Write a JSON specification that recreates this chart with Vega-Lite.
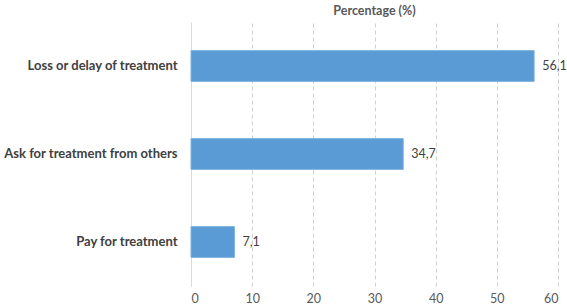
{
  "$schema": "https://vega.github.io/schema/vega-lite/v6.json",
  "autosize": "none",
  "width": 367,
  "height": 264,
  "padding": {"left": 191, "top": 22, "right": 9, "bottom": 21},
  "background": "white",
  "title": {"text": "Percentage (%)", "anchor": "middle", "font": "Lato", "fontSize": 12.5, "fontWeight": "bold", "color": "#595959", "offset": 5},
  "config": {
    "view": {"stroke": null},
    "locale": {"number": {"decimal": ",", "thousands": ".", "grouping": [3], "currency": ["", " €"]}}
  },
  "data": {"values": [
    {"category": "Loss or delay of treatment", "pct": 56.1},
    {"category": "Ask for treatment from others", "pct": 34.7},
    {"category": "Pay for treatment", "pct": 7.1}
  ]},
  "encoding": {
    "y": {"field": "category", "type": "nominal", "sort": null,
      "scale": {"paddingInner": 0.65, "paddingOuter": 0.325},
      "axis": {"title": null, "ticks": false, "domain": true, "domainColor": "#d9d9d9", "labelFont": "Lato", "labelFontSize": 13, "labelFontWeight": "bold", "labelColor": "#404040", "labelPadding": 14, "labelLimit": 300}},
    "x": {"field": "pct", "type": "quantitative",
      "scale": {"domain": [0, 60], "nice": false},
      "axis": {"title": null, "values": [0, 10, 20, 30, 40, 50, 60], "format": "d", "domain": false, "ticks": false, "grid": true, "gridColor": "#d0d0d0", "gridDash": [4, 3], "labelFont": "Lato", "labelFontSize": 12.5, "labelColor": "#595959", "labelPadding": 6}}
  },
  "layer": [
    {"mark": {"type": "bar", "color": "#5B9BD5", "stroke": "#7fb2e0", "strokeWidth": 1}},
    {"mark": {"type": "text", "align": "left", "baseline": "middle", "dx": 8, "font": "Lato", "fontSize": 12.5, "color": "#404040"},
      "encoding": {"text": {"field": "pct", "type": "quantitative", "format": ".1f"}}}
  ]
}
